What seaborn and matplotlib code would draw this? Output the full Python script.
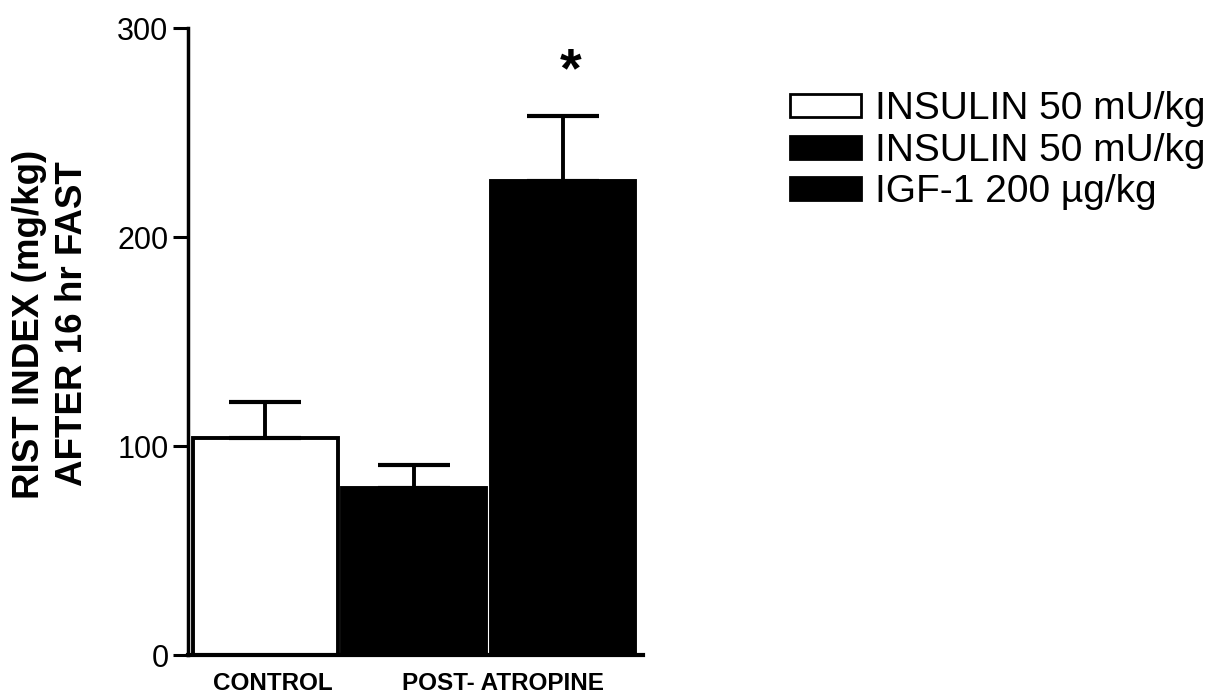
import matplotlib
matplotlib.use("Agg")
import matplotlib.pyplot as plt
import seaborn as sns
import pandas as pd
import numpy as np
from matplotlib.patches import Patch

# ---- data ----
groups = ["CONTROL INSULIN", "POST-ATROPINE INSULIN", "POST-ATROPINE IGF-1"]
means = [104, 80, 227]
sem = [17, 11, 31]
legend_labels = ["INSULIN 50 mU/kg", "INSULIN 50 mU/kg", "IGF-1 200 \u00b5g/kg"]
fills = ["white", "black", "black"]
tick_labels = ["CONTROL", "POST- ATROPINE"]
tick_pos = [0.05, 1.6]
y_ticks = [0, 100, 200, 300]
sig_group = 2
sig_y = 279

sns.set_theme(style="ticks")
plt.rcParams['font.family'] = ['Liberation Sans', 'DejaVu Sans']
plt.rcParams['text.color'] = 'black'
plt.rcParams['axes.labelcolor'] = 'black'
plt.rcParams['xtick.color'] = 'black'
plt.rcParams['ytick.color'] = 'black'

fig = plt.figure(figsize=(12.17, 6.98), dpi=100)
ax = fig.add_axes([0.1545, 0.0616, 0.374, 0.898])

df = pd.DataFrame({"group": groups, "value": means})
sns.barplot(data=df, x="group", y="value", hue="group", order=groups,
            hue_order=groups, palette=dict(zip(groups, fills)),
            edgecolor="black", linewidth=2.8, width=0.97, saturation=1,
            legend=False, ax=ax)

x = np.arange(len(groups))
ax.errorbar(x, means, yerr=[np.zeros(len(sem)), sem], fmt='none',
            ecolor='black', elinewidth=2.8, capsize=26, capthick=3, zorder=1)

ax.text(sig_group + 0.05, sig_y, "*", ha='center', va='center',
        fontsize=40, fontweight='bold', color='black')

ax.set_xlim(-0.52, 2.54)
ax.set_ylim(0, 300)
ax.set_yticks(y_ticks)
ax.set_yticklabels([str(v) for v in y_ticks])
ax.set_xticks(tick_pos)
ax.set_xticklabels(tick_labels, fontweight='bold', fontsize=17.5)
ax.tick_params(axis='x', length=0, pad=12, colors='black')
ax.tick_params(axis='y', length=11, width=2.2, labelsize=22, pad=3, colors='black')
ax.set_xlabel("")

for s in ['top', 'right']:
    ax.spines[s].set_visible(False)
ax.spines['left'].set_linewidth(2.5)
ax.spines['bottom'].set_linewidth(3)
ax.spines['left'].set_color('black')
ax.spines['bottom'].set_color('black')

ax.set_ylabel("RIST INDEX (mg/kg)\nAFTER 16 hr FAST", fontsize=26.5,
              fontweight='bold', linespacing=1.3, color='black')
ax.yaxis.set_label_coords(-0.215, 0.528)

handles = [Patch(facecolor=f, edgecolor='black', linewidth=2) for f in fills]
fig.legend(handles, legend_labels, loc='upper left', bbox_to_anchor=(0.649, 0.869),
           frameon=False, fontsize=28, handlelength=1.83, handleheight=0.54,
           handletextpad=0.36, labelspacing=0.14, borderpad=0, borderaxespad=0)

fig.savefig("out.png", dpi=100, facecolor='white')
